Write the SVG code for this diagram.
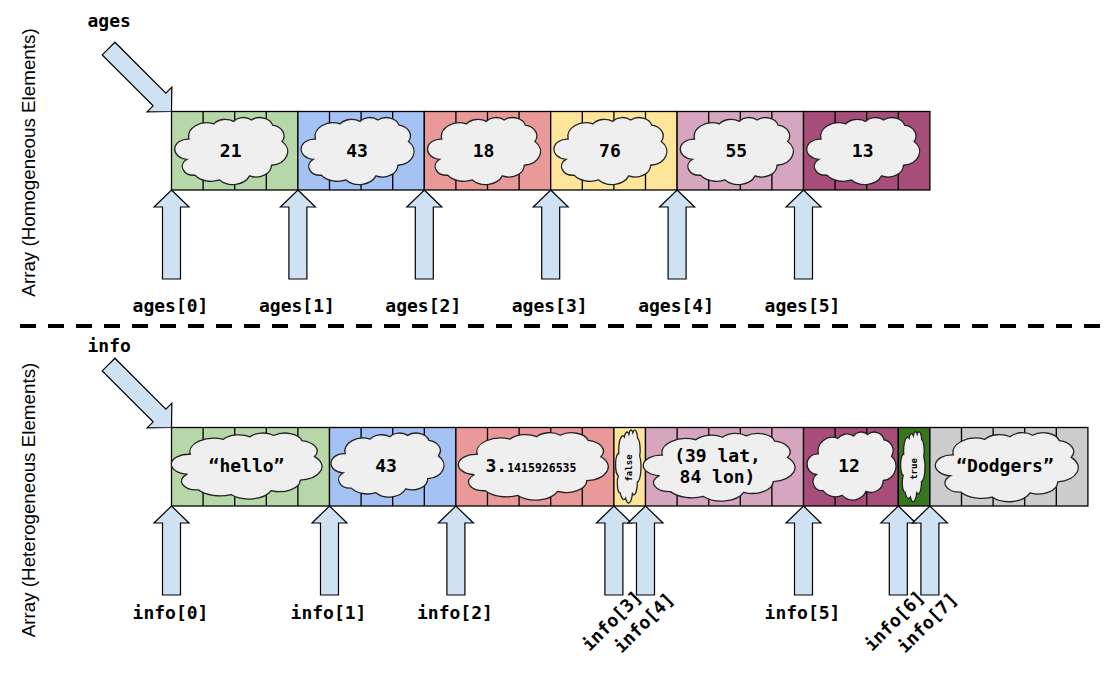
<svg xmlns="http://www.w3.org/2000/svg" xmlns:xlink="http://www.w3.org/1999/xlink" width="1112" height="680" viewBox="0 0 1112 680">
<style>
.cell{stroke:#000;stroke-width:1.3}
.div{stroke:#000;stroke-width:1.3}
.g1{fill:#b6d7a8}.b1{fill:#a4c2f4}.r1{fill:#ea9999}.y1{fill:#ffe599}.p1{fill:#d5a6bd}.m1{fill:#a64d79}.d1{fill:#38761d}.s1{fill:#cccccc}
.cl{fill:#efefef;stroke:#222;stroke-width:1.3}
.arr{fill:#cfe2f3;stroke:#000;stroke-width:1.2;stroke-linejoin:miter}
.mono{font-family:"DejaVu Sans Mono","Liberation Mono",monospace;font-weight:bold;font-size:18px;fill:#000}
.val{font-family:"DejaVu Sans Mono","Liberation Mono",monospace;font-weight:bold;font-size:18px;fill:#000;text-anchor:middle}
.tiny{font-family:"DejaVu Sans Mono","Liberation Mono",monospace;font-weight:bold;font-size:9px;fill:#000;text-anchor:middle}
.lbl{font-family:"DejaVu Sans Mono","Liberation Mono",monospace;font-weight:bold;font-size:18px;fill:#000;text-anchor:middle}
.side{font-family:"Liberation Sans",Arial,sans-serif;font-size:18.8px;fill:#000;text-anchor:middle}
</style>
<defs>
<path id="cloud" vector-effect="non-scaling-stroke" d="M39,143.7 A67.53,91.9 0 0 1 132.1,42.56 A53.33,72.67 0 0 1 206.53,26.26 A43.65,59.45 0 0 1 272.9,16.84 A48.57,65.95 0 0 1 351.94,50.93 A53.33,72.73 0 0 1 387.53,158.97 A67.75,92.2 0 0 1 347.78,317.29 A57.85,78.67 0 0 1 265.79,387.92 A67.52,92.15 0 0 1 153.53,414.86 A77.2,105.43 0 0 1 61.63,383.35 A43.6,59.18 0 0 1 30.92,277.88 A43.45,59.45 0 0 1 39,143.7 Z"/>
<polygon id="uparrow" points="0,0 17.5,17 9,17 9,89 -9,89 -9,17 -17.5,17"/>
</defs>
<rect width="1112" height="680" fill="#fff"/>

<!-- side labels -->
<text class="side" transform="translate(35.2,162.5) rotate(-90)">Array (Homogeneous Elements)</text>
<text class="side" transform="translate(35.2,500) rotate(-90)">Array (Heterogeneous Elements)</text>

<!-- separator -->
<line x1="20" y1="326" x2="1100" y2="326" stroke="#000" stroke-width="4" stroke-dasharray="16 12"/>

<!-- variable names -->
<text class="mono" x="87.5" y="27">ages</text>
<text class="mono" x="87.5" y="352">info</text>

<!-- TOP ARRAY -->
<g id="ages0">
<rect class="cell g1" x="171.5" y="111.5" width="126.4" height="78.5"/>
<path class="div" d="M203.1,111.5V190M234.7,111.5V190M266.3,111.5V190"/>
<use xlink:href="#cloud" class="cl" transform="translate(179.7,117.5) scale(0.26733,0.15066) translate(-4.5,-0.2)"/>
<text class="val" x="230.7" y="157">21</text>
</g>
<g id="ages1">
<rect class="cell b1" x="297.9" y="111.5" width="126.4" height="78.5"/>
<path class="div" d="M329.5,111.5V190M361.1,111.5V190M392.7,111.5V190"/>
<use xlink:href="#cloud" class="cl" transform="translate(306.1,117.5) scale(0.26733,0.15066) translate(-4.5,-0.2)"/>
<text class="val" x="357.1" y="157">43</text>
</g>
<g id="ages2">
<rect class="cell r1" x="424.3" y="111.5" width="126.4" height="78.5"/>
<path class="div" d="M455.9,111.5V190M487.5,111.5V190M519.1,111.5V190"/>
<use xlink:href="#cloud" class="cl" transform="translate(432.5,117.5) scale(0.26733,0.15066) translate(-4.5,-0.2)"/>
<text class="val" x="483.5" y="157">18</text>
</g>
<g id="ages3">
<rect class="cell y1" x="550.7" y="111.5" width="126.4" height="78.5"/>
<path class="div" d="M582.3,111.5V190M613.9,111.5V190M645.5,111.5V190"/>
<use xlink:href="#cloud" class="cl" transform="translate(558.9,117.5) scale(0.26733,0.15066) translate(-4.5,-0.2)"/>
<text class="val" x="609.9" y="157">76</text>
</g>
<g id="ages4">
<rect class="cell p1" x="677.1" y="111.5" width="126.4" height="78.5"/>
<path class="div" d="M708.7,111.5V190M740.3,111.5V190M771.9,111.5V190"/>
<use xlink:href="#cloud" class="cl" transform="translate(685.3,117.5) scale(0.26733,0.15066) translate(-4.5,-0.2)"/>
<text class="val" x="736.3" y="157">55</text>
</g>
<g id="ages5">
<rect class="cell m1" x="803.5" y="111.5" width="126.4" height="78.5"/>
<path class="div" d="M835.1,111.5V190M866.7,111.5V190M898.3,111.5V190"/>
<use xlink:href="#cloud" class="cl" transform="translate(811.7,117.5) scale(0.26733,0.15066) translate(-4.5,-0.2)"/>
<text class="val" x="862.7" y="157">13</text>
</g>

<!-- BOTTOM ARRAY -->
<g id="info0">
<rect class="cell g1" x="171.5" y="427.5" width="158" height="78.5"/>
<path class="div" d="M203.1,427.5V506M234.7,427.5V506M266.3,427.5V506M297.9,427.5V506"/>
<use xlink:href="#cloud" class="cl" transform="translate(178,433) scale(0.35644,0.14842) translate(-4.5,-0.2)"/>
<text class="val" x="246.5" y="472">“hello”</text>
</g>
<g id="info1">
<rect class="cell b1" x="329.5" y="427.5" width="126.4" height="78.5"/>
<path class="div" d="M361.1,427.5V506M392.7,427.5V506M424.3,427.5V506"/>
<use xlink:href="#cloud" class="cl" transform="translate(336,433) scale(0.26733,0.14392) translate(-4.5,-0.2)"/>
<text class="val" x="386" y="472">43</text>
</g>
<g id="info2">
<rect class="cell r1" x="455.9" y="427.5" width="158" height="78.5"/>
<path class="div" d="M487.5,427.5V506M519.1,427.5V506M550.7,427.5V506M582.3,427.5V506"/>
<use xlink:href="#cloud" class="cl" transform="translate(465,432.7) scale(0.35470,0.15134) translate(-4.5,-0.2)"/>
<text class="mono" x="485.5" y="472">3.<tspan font-size="11.5">1415926535</tspan></text>
</g>
<g id="info3">
<rect class="cell y1" x="613.9" y="427.5" width="31.6" height="78.5"/>
<use xlink:href="#cloud" class="cl" transform="translate(616.7,430) scale(0.06015,0.16416) translate(-4.5,-0.2)"/>
<text class="tiny" transform="translate(628.5,468) rotate(-90)" y="3">false</text>
</g>
<g id="info4">
<rect class="cell p1" x="645.5" y="427.5" width="158" height="78.5"/>
<path class="div" d="M677.1,427.5V506M708.7,427.5V506M740.3,427.5V506M771.9,427.5V506"/>
<use xlink:href="#cloud" class="cl" transform="translate(650,433.3) scale(0.35891,0.15224) translate(-4.5,-0.2)"/>
<text class="val" x="717.5" y="461.7">(39 lat,</text>
<text class="val" x="717.5" y="483.3">84 lon)</text>
</g>
<g id="info5">
<rect class="cell m1" x="803.5" y="427.5" width="94.8" height="78.5"/>
<path class="div" d="M835.1,427.5V506M866.7,427.5V506"/>
<use xlink:href="#cloud" class="cl" transform="translate(811,432) scale(0.21040,0.15291) translate(-4.5,-0.2)"/>
<text class="val" x="849" y="472">12</text>
</g>
<g id="info6">
<rect class="cell d1" x="898.3" y="427.5" width="31.6" height="78.5"/>
<use xlink:href="#cloud" class="cl" transform="translate(901.7,431.7) scale(0.05767,0.15741) translate(-4.5,-0.2)"/>
<text class="tiny" transform="translate(913.5,469) rotate(-90)" y="3">true</text>
</g>
<g id="info7">
<rect class="cell s1" x="929.9" y="427.5" width="158" height="78.5"/>
<path class="div" d="M961.5,427.5V506M993.1,427.5V506M1024.7,427.5V506M1056.3,427.5V506"/>
<use xlink:href="#cloud" class="cl" transform="translate(941.7,432.7) scale(0.33812,0.15516) translate(-4.5,-0.2)"/>
<text class="val" x="1005" y="472">“Dodgers”</text>
</g>

<!-- pointer arrows -->
<g id="connectors">
<use xlink:href="#uparrow" class="arr" transform="translate(171.5,111.5) rotate(135)"/>
<use xlink:href="#uparrow" class="arr" transform="translate(171.5,427.5) rotate(135)"/>
<use xlink:href="#uparrow" class="arr" transform="translate(171.5,190)"/>
<use xlink:href="#uparrow" class="arr" transform="translate(297.9,190)"/>
<use xlink:href="#uparrow" class="arr" transform="translate(424.3,190)"/>
<use xlink:href="#uparrow" class="arr" transform="translate(550.7,190)"/>
<use xlink:href="#uparrow" class="arr" transform="translate(677.1,190)"/>
<use xlink:href="#uparrow" class="arr" transform="translate(803.5,190)"/>
<use xlink:href="#uparrow" class="arr" transform="translate(171.5,506)"/>
<use xlink:href="#uparrow" class="arr" transform="translate(329.5,506)"/>
<use xlink:href="#uparrow" class="arr" transform="translate(455.9,506)"/>
<use xlink:href="#uparrow" class="arr" transform="translate(613.9,506)"/>
<use xlink:href="#uparrow" class="arr" transform="translate(645.5,506)"/>
<use xlink:href="#uparrow" class="arr" transform="translate(803.5,506)"/>
<use xlink:href="#uparrow" class="arr" transform="translate(898.3,506)"/>
<use xlink:href="#uparrow" class="arr" transform="translate(929.9,506)"/>
</g>

<!-- index labels -->
<g id="labels">
<text class="lbl" x="170.5" y="312">ages[0]</text>
<text class="lbl" x="296.9" y="312">ages[1]</text>
<text class="lbl" x="423.3" y="312">ages[2]</text>
<text class="lbl" x="549.7" y="312">ages[3]</text>
<text class="lbl" x="676.1" y="312">ages[4]</text>
<text class="lbl" x="802.5" y="312">ages[5]</text>
<text class="lbl" x="170.5" y="619">info[0]</text>
<text class="lbl" x="328.5" y="619">info[1]</text>
<text class="lbl" x="454.9" y="619">info[2]</text>
<text class="lbl" x="802.5" y="619">info[5]</text>
<text class="lbl" transform="translate(612,621) rotate(-45)" y="6">info[3]</text>
<text class="lbl" transform="translate(644,623) rotate(-45)" y="6">info[4]</text>
<text class="lbl" transform="translate(894.5,621) rotate(-45)" y="6">info[6]</text>
<text class="lbl" transform="translate(927.5,623) rotate(-45)" y="6">info[7]</text>
</g>
</svg>
